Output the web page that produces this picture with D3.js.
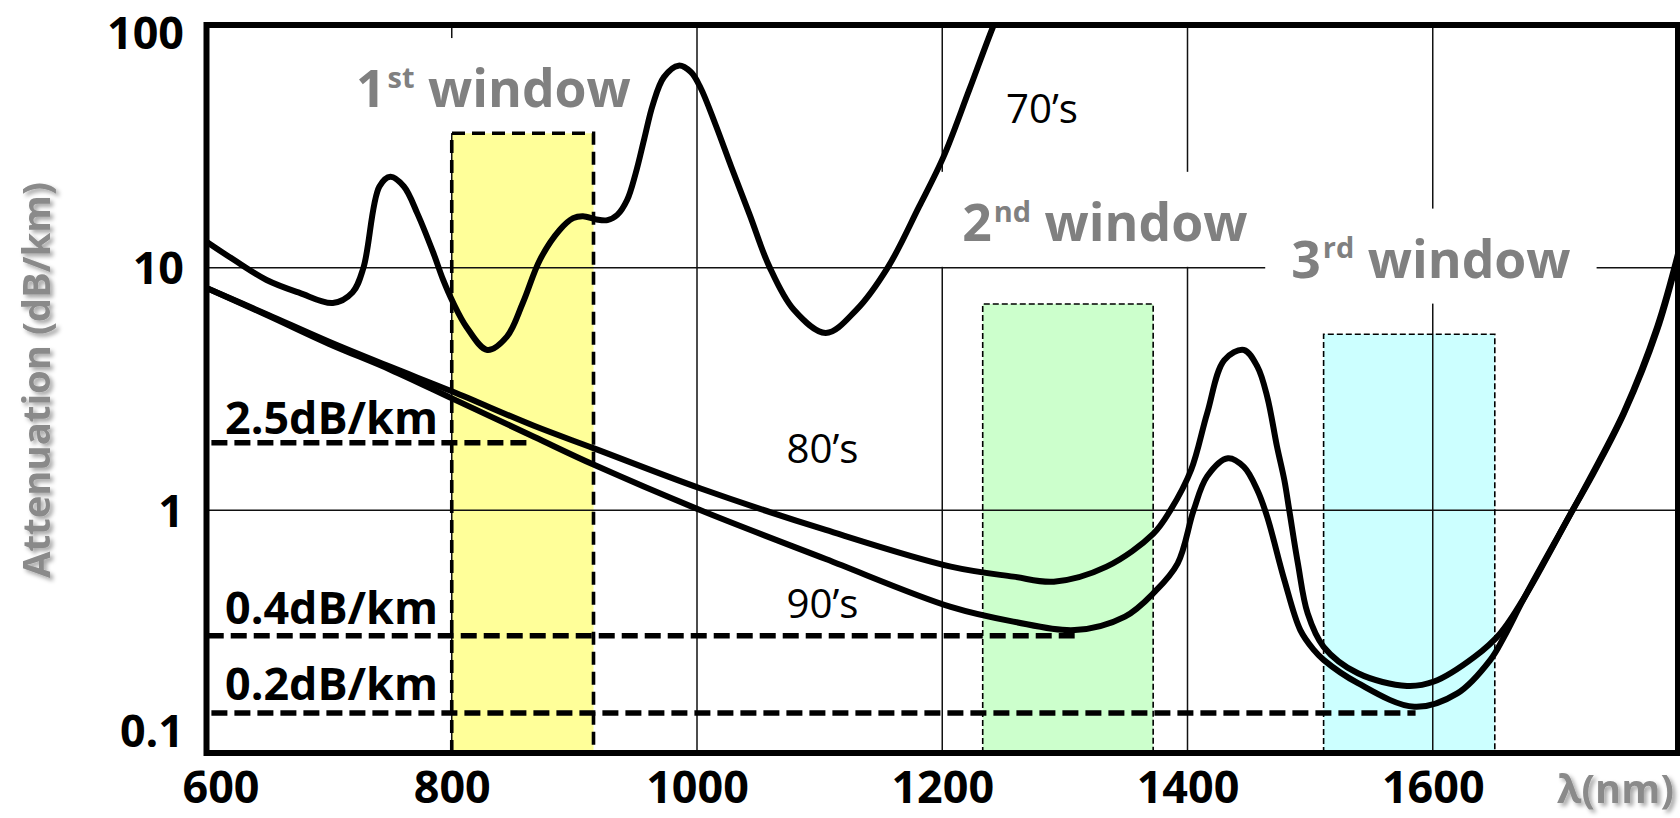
<!DOCTYPE html>
<html><head><meta charset="utf-8">
<script src="https://cdn.jsdelivr.net/npm/d3@7/dist/d3.min.js"></script>
<style>html,body{margin:0;padding:0;background:#fff;overflow:hidden}</style>
</head><body>
<svg id="chart" width="1680" height="818"></svg>
<script>
// ---------------- data ----------------
const wavelengthTicks = [600, 800, 1000, 1200, 1400, 1600];
const attenuationTicks = [0.1, 1, 10, 100];
const attenuationTickLabels = ["0.1", "1", "10", "100"];
const gridWavelengths = [800, 1000, 1200, 1400, 1600];
const gridAttenuations = [1, 10];

const fiber70sNm = [600, 622, 649, 676, 703, 719, 728, 741, 750, 761, 772, 785, 793, 801, 812, 829, 845, 858, 872, 888, 899, 907, 918, 927, 935, 943, 950, 957, 964, 973, 985, 995, 1003, 1015, 1028, 1043, 1059, 1079, 1105, 1130, 1156, 1181, 1201, 1222, 1242, 1252];
const fiber70sDb = [12.8, 10.8, 8.9, 7.87, 7.15, 7.9, 10.0, 21.6, 23.7, 21.6, 16.7, 11.5, 8.9, 7.2, 5.7, 4.58, 5.2, 7.17, 10.8, 14.3, 16.0, 16.3, 15.8, 15.7, 16.5, 19.0, 24.5, 34, 47, 61, 68, 64, 55, 39, 26.0, 16.5, 10.1, 6.7, 5.38, 6.7, 10.1, 17.8, 28.6, 54, 100, 130];

const fiber80sNm = [600, 650, 700, 750, 801, 867, 916, 1003, 1105, 1207, 1258, 1291, 1334, 1372, 1386, 1403, 1416, 1430, 1446, 1457, 1465, 1473, 1479, 1483, 1490, 1498, 1511, 1539, 1579, 1601, 1634, 1655, 1675, 1714, 1729, 1756, 1783, 1800];
const fiber80sDb = [8.25, 6.4, 4.95, 3.9, 3.08, 2.23, 1.80, 1.23, 0.83, 0.586, 0.533, 0.508, 0.586, 0.80, 1.0, 1.47, 2.51, 4.16, 4.58, 3.91, 2.94, 1.83, 1.33, 1.0, 0.605, 0.376, 0.274, 0.213, 0.189, 0.197, 0.249, 0.311, 0.44, 1.0, 1.36, 2.51, 5.53, 11.1];

const fiber90sNm = [600, 650, 700, 750, 801, 867, 916, 1003, 1105, 1207, 1258, 1308, 1349, 1373, 1392, 1405, 1416, 1433, 1446, 1457, 1465, 1479, 1492, 1503, 1511, 1539, 1585, 1620, 1647, 1658, 1675, 1714, 1729, 1756, 1783, 1800];
const fiber90sDb = [8.25, 6.35, 4.85, 3.8, 2.88, 2.01, 1.54, 1.0, 0.63, 0.40, 0.348, 0.321, 0.365, 0.46, 0.605, 1.0, 1.38, 1.64, 1.51, 1.21, 0.94, 0.516, 0.321, 0.266, 0.242, 0.194, 0.155, 0.176, 0.242, 0.30, 0.44, 1.0, 1.38, 2.55, 5.7, 11.4];

const decadeLabels = ["70\u2019s", "80\u2019s", "90\u2019s"];

const windowNumbers = ["1", "2", "3"];
const windowSuffixes = ["st", "nd", "rd"];
const windowWord = "window";
const windowStartNm = [800, 1233, 1511];
const windowEndNm = [915.6, 1372, 1650.6];
const windowTopDb = [35.8, 7.08, 5.32];

const refLabels = ["2.5dB/km", "0.4dB/km", "0.2dB/km"];
const refLevelDb = [1.90, 0.304, 0.146];
const refStartNm = [604, 601, 604];
const refEndNm = [865, 1308, 1586];

const yTitle = "Attenuation (dB/km)";
const xTitle = "\u03bb(nm)";

// ---------------- layout / style ----------------
const FONT = "'Open Sans', 'Liberation Sans', 'DejaVu Sans', sans-serif";
const windowFills = ["#FFFF99", "#CCFFCC", "#CCFFFF"];
const windowDash = [{w: 3.6, d: "13,7"}, {w: 1.6, d: "6,3"}, {w: 1.6, d: "6,3"}];

const svg = d3.select("#chart");
const x = d3.scaleLinear().domain([600, 1800]).range([206.5, 1678]);
const y = d3.scaleLog().domain([0.1, 100]).range([753, 25]);

function fitSize(str, weight, target) {
  const t = svg.append("text").attr("font-family", FONT).attr("font-weight", weight)
    .attr("font-size", 40).text(str);
  const w = t.node().getComputedTextLength();
  t.remove();
  return 40 * target / w;
}

const defs = svg.append("defs");
defs.append("clipPath").attr("id", "plotClip").append("rect")
  .attr("x", x(600)).attr("y", y(100))
  .attr("width", x(1800) - x(600)).attr("height", y(0.1) - y(100));
const f = defs.append("filter").attr("id", "shadow")
  .attr("x", "-30%").attr("y", "-30%").attr("width", "160%").attr("height", "160%");
f.append("feGaussianBlur").attr("in", "SourceAlpha").attr("stdDeviation", 2).attr("result", "b");
f.append("feOffset").attr("in", "b").attr("dx", 3).attr("dy", 3).attr("result", "o");
f.append("feFlood").attr("flood-color", "#000").attr("flood-opacity", 0.35).attr("result", "c");
f.append("feComposite").attr("in", "c").attr("in2", "o").attr("operator", "in").attr("result", "s");
const fm = f.append("feMerge");
fm.append("feMergeNode").attr("in", "s");
fm.append("feMergeNode").attr("in", "SourceGraphic");

const gFill = svg.append("g");
const gGrid = svg.append("g");
const gBoxes = svg.append("g");
const gWinBorder = svg.append("g");
const gCurves = svg.append("g").attr("clip-path", "url(#plotClip)");
const gRef = svg.append("g");
const gText = svg.append("g");
const gFrame = svg.append("g");

// window rectangles
windowStartNm.forEach((s, i) => {
  gFill.append("rect")
    .attr("x", x(s)).attr("y", y(windowTopDb[i]))
    .attr("width", x(windowEndNm[i]) - x(s)).attr("height", y(0.1) - y(windowTopDb[i]))
    .attr("fill", windowFills[i]);
  gWinBorder.append("path")
    .attr("d", `M${x(s)},${y(0.1)}V${y(windowTopDb[i])}H${x(windowEndNm[i])}V${y(0.1)}`)
    .attr("fill", "none").attr("stroke", "#000")
    .attr("stroke-width", windowDash[i].w).attr("stroke-dasharray", windowDash[i].d);
});

// grid
gGrid.selectAll(".vg").data(gridWavelengths).join("line")
  .attr("x1", d => x(d)).attr("x2", d => x(d)).attr("y1", y(100)).attr("y2", y(0.1))
  .attr("stroke", "#111").attr("stroke-width", 1.5);
gGrid.selectAll(".hg").data(gridAttenuations).join("line")
  .attr("x1", x(600)).attr("x2", x(1800)).attr("y1", d => y(d)).attr("y2", d => y(d))
  .attr("stroke", "#111").attr("stroke-width", 1.5);

// curves
const line = d3.line().x(d => x(d[0])).y(d => y(d[1])).curve(d3.curveCatmullRom.alpha(0.5));
[[fiber70sNm, fiber70sDb], [fiber80sNm, fiber80sDb], [fiber90sNm, fiber90sDb]].forEach(([n, v]) => {
  gCurves.append("path").attr("d", line(d3.zip(n, v)))
    .attr("fill", "none").attr("stroke", "#000").attr("stroke-width", 6)
    .attr("stroke-linejoin", "round");
});

// reference dashed levels
refLevelDb.forEach((v, i) => {
  gRef.append("line")
    .attr("x1", x(refStartNm[i])).attr("x2", x(refEndNm[i]))
    .attr("y1", y(v)).attr("y2", y(v))
    .attr("stroke", "#000").attr("stroke-width", 5.5).attr("stroke-dasharray", "16,7");
});

// reference labels
const refSize = fitSize(refLabels[0], 700, 213);
const refBaselineOffset = [-9, -12, -13];
refLabels.forEach((t, i) => {
  gText.append("text").attr("x", 225).attr("y", y(refLevelDb[i]) + refBaselineOffset[i])
    .attr("font-family", FONT).attr("font-weight", 700).attr("font-size", refSize)
    .attr("fill", "#000").text(t);
});

// decade labels (anchored in data units)
const decadeAnchorNm = [1252, 1073, 1073];
const decadeAnchorDb = [39.4, 1.57, 0.36];
const decSize = fitSize(decadeLabels[0], 400, 72);
decadeLabels.forEach((t, i) => {
  gText.append("text").attr("x", x(decadeAnchorNm[i])).attr("y", y(decadeAnchorDb[i]))
    .attr("font-family", FONT).attr("font-weight", 400).attr("font-size", decSize)
    .attr("fill", "#000").text(t);
});

// window labels with white backing boxes
const winSize = fitSize(windowWord, 700, 203);
const winCenterNm = [834, 1332.6, 1598.5];
const winBaselineDb = [45.9, 12.9, 9.1];
windowNumbers.forEach((num, i) => {
  const cx = x(winCenterNm[i]), by = y(winBaselineDb[i]);
  const t = gText.append("text").attr("x", cx).attr("y", by)
    .attr("text-anchor", "middle").attr("font-family", FONT).attr("font-weight", 700)
    .attr("font-size", winSize).attr("fill", "#808080");
  t.append("tspan").text(num);
  t.append("tspan").attr("font-size", winSize * 0.56).attr("dy", -winSize * 0.37)
    .attr("dx", 2).text(windowSuffixes[i]);
  t.append("tspan").attr("dy", winSize * 0.37).text(" " + windowWord);
  const bb = t.node().getBBox();
  gBoxes.append("rect").attr("x", bb.x - 26).attr("y", by - 69)
    .attr("width", bb.width + 52).attr("height", 95).attr("fill", "#fff");
});

// axes
const tickSize = fitSize("600", 700, 77);
const xAxisG = svg.append("g").attr("transform", `translate(0,${y(0.1)})`)
  .call(d3.axisBottom(x).tickValues(wavelengthTicks).tickSize(0).tickFormat(d3.format("d")));
xAxisG.select(".domain").remove();
xAxisG.selectAll("text").attr("y", 50).attr("dy", 0)
  .attr("dx", (d, i) => i === 0 ? 14 : 0)
  .attr("font-family", FONT).attr("font-weight", 700).attr("font-size", tickSize).attr("fill", "#000");

const yTickShift = [-23, 0, 0, 7];
const yAxisG = svg.append("g").attr("transform", `translate(${x(600)},0)`)
  .call(d3.axisLeft(y).tickValues(attenuationTicks).tickSize(0)
    .tickFormat((d, i) => attenuationTickLabels[i]));
yAxisG.select(".domain").remove();
yAxisG.selectAll("text").attr("x", -22.5).attr("dy", "0.36em")
  .attr("transform", (d, i) => `translate(0,${yTickShift[i]})`)
  .attr("font-family", FONT).attr("font-weight", 700).attr("font-size", tickSize).attr("fill", "#000");

// titles
const ySize = fitSize(yTitle, 700, 396);
const gy = svg.append("g").attr("filter", "url(#shadow)");
gy.append("text").attr("transform", "translate(50,380) rotate(-90)")
  .attr("text-anchor", "middle").attr("font-family", FONT).attr("font-weight", 700)
  .attr("font-size", ySize).attr("fill", "#8a8a8a").text(yTitle);
const xtSize = fitSize(xTitle, 700, 117);
const gx = svg.append("g").attr("filter", "url(#shadow)");
gx.append("text").attr("x", 1557).attr("y", 803)
  .attr("font-family", FONT).attr("font-weight", 700)
  .attr("font-size", xtSize).attr("fill", "#8a8a8a").text(xTitle);

// frame
gFrame.append("rect").attr("x", x(600)).attr("y", y(100))
  .attr("width", x(1800) - x(600)).attr("height", y(0.1) - y(100))
  .attr("fill", "none").attr("stroke", "#000").attr("stroke-width", 6);
</script>
</body></html>
